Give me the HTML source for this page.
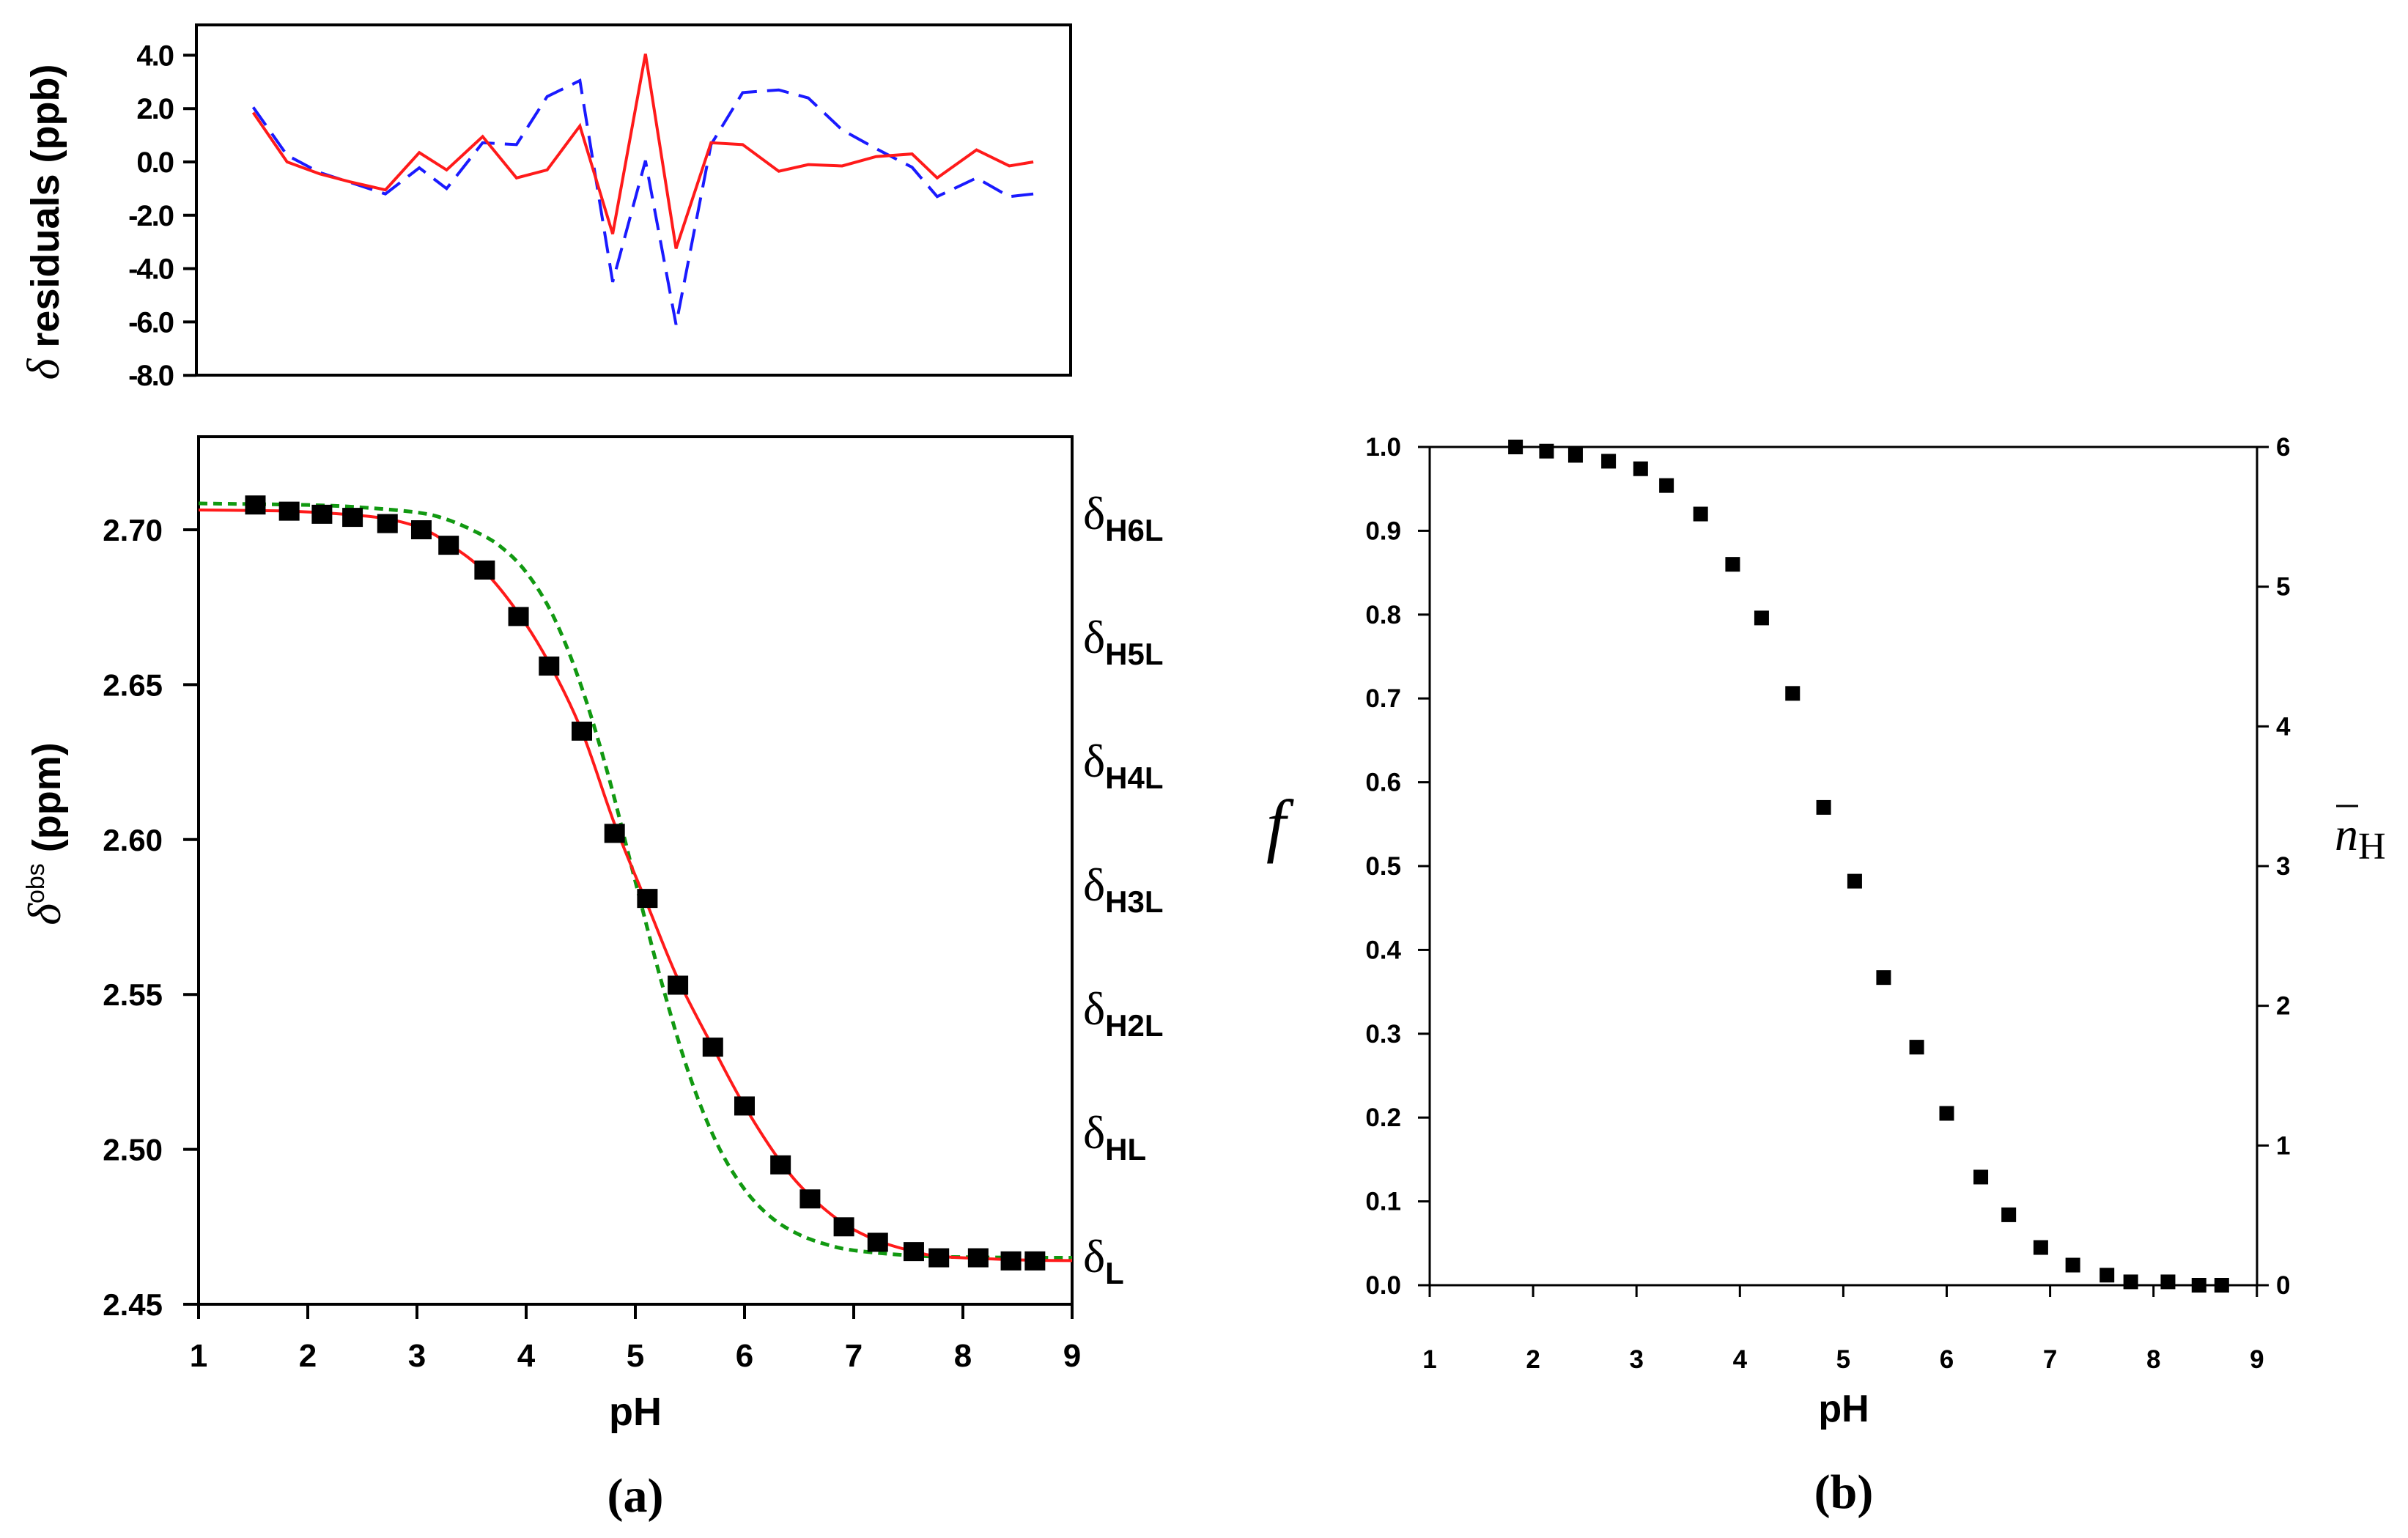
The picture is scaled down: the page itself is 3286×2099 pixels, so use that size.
<!DOCTYPE html>
<html><head><meta charset="utf-8"><style>
html,body{margin:0;padding:0;background:#fff}
svg{display:block}
</style></head><body>
<svg id="chart" width="3286" height="2099" viewBox="0 0 3286 2099" xmlns="http://www.w3.org/2000/svg" font-family="Liberation Sans, sans-serif">
<rect width="3286" height="2099" fill="#fff"/>
<g id="res"></g>
<g id="main"></g>
<g id="pb"></g>
</svg>
<script>
const phData=[1.52,1.83,2.13,2.41,2.73,3.04,3.29,3.62,3.93,4.21,4.51,4.81,5.11,5.39,5.71,6.00,6.33,6.60,6.91,7.22,7.55,7.78,8.14,8.44,8.66];
const resRed=[1.85,0.0,-0.45,-0.75,-1.05,0.35,-0.3,0.95,-0.6,-0.3,1.35,-2.7,4.05,-3.25,0.72,0.65,-0.35,-0.1,-0.15,0.2,0.3,-0.6,0.45,-0.15,0.0];
const resBlue=[2.05,0.25,-0.4,-0.77,-1.2,-0.22,-1.0,0.72,0.65,2.45,3.05,-4.5,0.05,-6.1,0.65,2.6,2.7,2.4,1.2,0.5,-0.2,-1.3,-0.6,-1.3,-1.2];
const resTicks=["4.0","2.0","0.0","-2.0","-4.0","-6.0","-8.0"];
const resTickVals=[4,2,0,-2,-4,-6,-8];
const deltaObs=[2.708,2.706,2.705,2.704,2.702,2.700,2.695,2.687,2.672,2.656,2.635,2.602,2.581,2.553,2.533,2.514,2.495,2.484,2.475,2.470,2.467,2.465,2.465,2.464,2.464];
const fitPh=[1,1.52,1.83,2.13,2.41,2.73,3.04,3.29,3.62,3.93,4.21,4.51,4.81,5.11,5.39,5.71,6.00,6.33,6.60,6.91,7.22,7.55,7.78,8.14,8.44,8.66,9];
const fitVal=[2.7064,2.7062,2.706,2.7055,2.7048,2.7035,2.7005,2.6955,2.6865,2.673,2.657,2.635,2.605,2.579,2.555,2.533,2.514,2.496,2.485,2.476,2.4705,2.467,2.4655,2.4648,2.4644,2.4642,2.4641];
const greenPh=[1,2,2.5,3,3.25,3.5,3.75,4,4.25,4.5,4.75,5,5.25,5.5,5.75,6,6.25,6.5,6.75,7,7.5,8,9];
const greenVal=[2.7085,2.708,2.7072,2.7056,2.7036,2.700,2.695,2.6863,2.672,2.650,2.621,2.5865,2.5527,2.5235,2.5017,2.4871,2.4779,2.4725,2.4693,2.4674,2.4658,2.4652,2.465];
const aTicks=["2.45","2.50","2.55","2.60","2.65","2.70"];
const aTickVals=[2.45,2.50,2.55,2.60,2.65,2.70];
const xTicks=["1","2","3","4","5","6","7","8","9"];
const deltaLabels=["H6L","H5L","H4L","H3L","H2L","HL","L"];
const phB=[1.83,2.13,2.41,2.73,3.04,3.29,3.62,3.93,4.21,4.51,4.81,5.11,5.39,5.71,6.00,6.33,6.60,6.91,7.22,7.55,7.78,8.14,8.44,8.66];
const fB=[1.0,0.995,0.99,0.983,0.974,0.954,0.92,0.86,0.796,0.706,0.57,0.482,0.367,0.284,0.205,0.129,0.084,0.045,0.024,0.012,0.004,0.004,0.0,0.0];
const bTicks=["0.0","0.1","0.2","0.3","0.4","0.5","0.6","0.7","0.8","0.9","1.0"];
const bTickVals=[0,0.1,0.2,0.3,0.4,0.5,0.6,0.7,0.8,0.9,1.0];
const nTicks=["0","1","2","3","4","5","6"];
const nTickVals=[0,1,2,3,4,5,6];

const NS="http://www.w3.org/2000/svg";
const SERIF="Liberation Serif, serif";
function mk(parent,tag,attrs,txt){const e=document.createElementNS(NS,tag);for(const k in attrs)e.setAttribute(k,attrs[k]);if(txt!==undefined)e.textContent=txt;parent.appendChild(e);return e;}
function smooth(pts){let d='M'+pts[0][0]+','+pts[0][1];for(let i=0;i<pts.length-1;i++){const p0=pts[i-1]||pts[i],p1=pts[i],p2=pts[i+1],p3=pts[i+2]||p2;const c1x=p1[0]+(p2[0]-p0[0])/6,c1y=p1[1]+(p2[1]-p0[1])/6,c2x=p2[0]-(p3[0]-p1[0])/6,c2y=p2[1]-(p3[1]-p1[1])/6;d+=' C'+c1x+','+c1y+' '+c2x+','+c2y+' '+p2[0]+','+p2[1];}return d;}
const xR=p=>268+(p-1)*149.1, yR=v=>221-v*36.4;
const xA=p=>271+(p-1)*149, yA=v=>1780-(v-2.45)/0.05*211.4;
const xB=p=>1951+(p-1)*141.1, yB=f=>1754-f*1144, yN=n=>yB(n/6);

// residual panel
const R=document.getElementById('res');
let e=mk(R,'rect',{x:268,y:34,width:1193,height:478,fill:'none',stroke:'#000','stroke-width':4});


resTickVals.forEach((v,i)=>{
 let t=mk(R,'line',{x1:250,x2:268,y1:yR(v),y2:yR(v),stroke:'#000','stroke-width':4});
 
 
 let l=mk(R,'text',{x:236,y:yR(v)+14,'text-anchor':'end','font-size':40,'font-weight':'bold','letter-spacing':-2},resTicks[i]);
 
 
});
let pb=mk(R,'polyline',{points:phData.map((p,i)=>xR(p)+','+yR(resBlue[i])).join(' '),fill:'none',stroke:'#1a1aff','stroke-width':4,'stroke-dasharray':'30,14'});


let pr=mk(R,'polyline',{points:phData.map((p,i)=>xR(p)+','+yR(resRed[i])).join(' '),fill:'none',stroke:'#ff1a1a','stroke-width':4});


let rt=mk(R,'text',{transform:'translate(80,303) rotate(-90)','text-anchor':'middle','font-size':54,'font-weight':'bold'});


mk(rt,'tspan',{'font-style':'italic','font-family':SERIF,'font-weight':'normal','font-size':62},'δ');
mk(rt,'tspan',{},' residuals (ppb)');

// panel a
const A=document.getElementById('main');
e=mk(A,'rect',{x:271,y:596,width:1192,height:1184,fill:'none',stroke:'#000','stroke-width':4});


aTickVals.forEach((v,i)=>{
 let t=mk(A,'line',{x1:250,x2:271,y1:yA(v),y2:yA(v),stroke:'#000','stroke-width':4});
 
 
 let l=mk(A,'text',{x:222,y:yA(v)+15,'text-anchor':'end','font-size':42,'font-weight':'bold'},aTicks[i]);
 
 
});
xTicks.forEach((s,i)=>{
 const p=i+1;
 let t=mk(A,'line',{x1:xA(p),x2:xA(p),y1:1780,y2:1800,stroke:'#000','stroke-width':4});
 
 
 let l=mk(A,'text',{x:xA(p),y:1865,'text-anchor':'middle','font-size':44,'font-weight':'bold'},s);
 
 
});
let g=mk(A,'path',{d:smooth(greenPh.map((p,i)=>[xA(p),yA(greenVal[i])])),fill:'none',stroke:'#119911','stroke-width':5,'stroke-dasharray':'12,8'});


let rf=mk(A,'path',{d:smooth(fitPh.map((p,i)=>[xA(p),yA(fitVal[i])])),fill:'none',stroke:'#ff1a1a','stroke-width':4});


phData.forEach((p,i)=>{
 let s=mk(A,'rect',{x:xA(p)-14,y:yA(deltaObs[i])-13,width:28,height:26,fill:'#000'});
 
 
});
deltaLabels.forEach((s,i)=>{
 let t=mk(A,'text',{x:1478,y:722+i*169,'font-size':64,'font-family':SERIF});
 
 
 mk(t,'tspan',{},'δ');
 mk(t,'tspan',{dy:16,'font-size':42,'font-weight':'bold','font-family':'Liberation Sans, sans-serif'},s);
});
let at=mk(A,'text',{transform:'translate(82,1138) rotate(-90)','text-anchor':'middle','font-size':54,'font-weight':'bold'});


mk(at,'tspan',{'font-style':'italic','font-family':SERIF,'font-weight':'normal','font-size':64},'δ');
mk(at,'tspan',{dy:-22,'font-size':34,'font-weight':'normal'},'obs');
mk(at,'tspan',{dy:22},' (ppm)');
let ax=mk(A,'text',{x:867,y:1945,'text-anchor':'middle','font-size':54,'font-weight':'bold'},'pH');


let al=mk(A,'text',{x:867,y:2063,'text-anchor':'middle','font-size':66,'font-weight':'bold','font-family':SERIF},'(a)');



// panel b
const B=document.getElementById('pb');
e=mk(B,'rect',{x:1951,y:610,width:1129,height:1144,fill:'none',stroke:'#000','stroke-width':3});


bTickVals.forEach((v,i)=>{
 let t=mk(B,'line',{x1:1935,x2:1951,y1:yB(v),y2:yB(v),stroke:'#000','stroke-width':3});
 
 
 let l=mk(B,'text',{x:1912,y:yB(v)+12,'text-anchor':'end','font-size':35,'font-weight':'bold'},bTicks[i]);
 
 
});
nTickVals.forEach((v,i)=>{
 let t=mk(B,'line',{x1:3080,x2:3096,y1:yN(v),y2:yN(v),stroke:'#000','stroke-width':3});
 
 
 let l=mk(B,'text',{x:3106,y:yN(v)+12,'font-size':35,'font-weight':'bold'},nTicks[i]);
 
 
});
xTicks.forEach((s,i)=>{
 const p=i+1;
 let t=mk(B,'line',{x1:xB(p),x2:xB(p),y1:1754,y2:1770,stroke:'#000','stroke-width':3});
 
 
 let l=mk(B,'text',{x:xB(p),y:1867,'text-anchor':'middle','font-size':35,'font-weight':'bold'},s);
 
 
});
phB.forEach((p,i)=>{
 let s=mk(B,'rect',{x:xB(p)-10,y:yB(fB[i])-10,width:20,height:20,fill:'#000'});
 
 
});
let fl=mk(B,'text',{x:1728,y:1158,'font-size':96,'font-style':'italic','font-family':SERIF},'f');


let nl=mk(B,'text',{x:3186,y:1160,'font-size':64,'font-family':SERIF});


mk(nl,'tspan',{'font-style':'italic'},'n');
mk(nl,'tspan',{dy:12,'font-size':52},'H');
let bar=mk(B,'line',{x1:3188,x2:3218,y1:1100,y2:1100,stroke:'#000','stroke-width':3});


let bx=mk(B,'text',{x:2516,y:1940,'text-anchor':'middle','font-size':52,'font-weight':'bold'},'pH');


let bl=mk(B,'text',{x:2516,y:2058,'text-anchor':'middle','font-size':66,'font-weight':'bold','font-family':SERIF},'(b)');


</script>
</body></html>
